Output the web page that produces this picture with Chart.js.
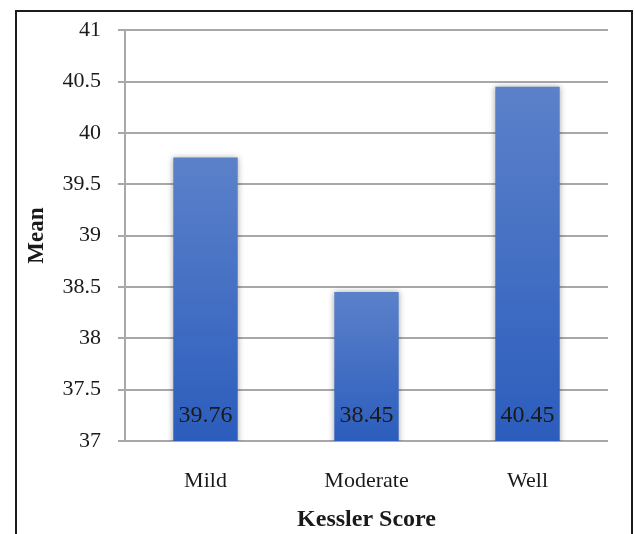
<!DOCTYPE html>
<html>
<head>
<meta charset="utf-8">
<script src="https://cdn.jsdelivr.net/npm/chart.js@4.4.1/dist/chart.umd.min.js"></script>
<style>
  html, body { margin: 0; padding: 0; background: #ffffff; }
  #wrap { position: relative; width: 635px; height: 534px; }
</style>
</head>
<body>
<div id="wrap"><canvas id="chart" width="635" height="534"></canvas></div>
<script>
// Mean age by Kessler distress category
const categories = ['Mild', 'Moderate', 'Well'];
const meanValues = [39.76, 38.45, 40.45];
const yTicks = [37, 37.5, 38, 38.5, 39, 39.5, 40, 40.5, 41];

const SERIF = "'Liberation Serif', 'Times New Roman', serif";

// White page with a dark frame around the figure
const framePlugin = {
  id: 'frame',
  beforeDraw(chart) {
    const c = chart.ctx;
    c.save();
    c.fillStyle = '#ffffff';
    c.fillRect(0, 0, chart.width, chart.height);
    c.strokeStyle = '#1c1c1c';
    c.lineWidth = 2;
    c.beginPath();
    c.moveTo(16, chart.height + 5);
    c.lineTo(16, 11);
    c.lineTo(632, 11);
    c.lineTo(632, chart.height + 5);
    c.stroke();
    c.restore();
  }
};

// Soft shadow behind the bars
const shadowPlugin = {
  id: 'barShadow',
  beforeDatasetsDraw(chart) {
    const c = chart.ctx;
    c.save();
    c.shadowColor = 'rgba(0,0,0,0.35)';
    c.shadowBlur = 6;
    c.shadowOffsetX = 0;
    c.shadowOffsetY = 0;
  },
  afterDatasetsDraw(chart) {
    chart.ctx.restore();
  }
};

// Value labels placed at the base of each bar
const baseLabelPlugin = {
  id: 'baseLabels',
  afterDatasetsDraw(chart) {
    const c = chart.ctx;
    const meta = chart.getDatasetMeta(0);
    const yScale = chart.scales.y;
    c.save();
    c.fillStyle = '#1a1a1a';
    c.font = "24px " + SERIF;
    c.textAlign = 'center';
    c.textBaseline = 'middle';
    meta.data.forEach((bar, i) => {
      const base = yScale.getPixelForValue(yScale.min);
      c.fillText(meanValues[i].toFixed(2), bar.x, base - 25);
    });
    c.restore();
  }
};

function barGradient(context) {
  const chart = context.chart;
  const area = chart.chartArea;
  if (!area) return '#3f6cc4';
  const yScale = chart.scales.y;
  const v = context.raw;
  const top = yScale.getPixelForValue(v);
  const bottom = yScale.getPixelForValue(yScale.min);
  const g = chart.ctx.createLinearGradient(0, top, 0, bottom);
  g.addColorStop(0, '#5b81c9');
  g.addColorStop(1, '#2c5dbd');
  return g;
}

new Chart(document.getElementById('chart'), {
  type: 'bar',
  data: {
    labels: categories,
    datasets: [{
      label: 'Mean',
      data: meanValues,
      backgroundColor: barGradient,
      borderWidth: 0,
      barPercentage: 0.4,
      categoryPercentage: 1.0
    }]
  },
  options: {
    responsive: false,
    animation: false,
    layout: { padding: { left: 20, right: 27, top: 29, bottom: 0 } },
    plugins: {
      legend: { display: false },
      tooltip: { enabled: false }
    },
    scales: {
      x: {
        grid: { display: false },
        border: { display: false },
        ticks: {
          color: '#1a1a1a',
          font: { family: SERIF, size: 22 },
          padding: 19
        },
        title: {
          display: true,
          text: 'Kessler Score',
          color: '#1a1a1a',
          font: { family: SERIF, size: 24, weight: 'bold' },
          padding: { top: 4, bottom: 0 }
        },
        afterFit(scale) { scale.height = 534 - 441; }
      },
      y: {
        min: 37,
        max: 41,
        afterBuildTicks(scale) {
          scale.ticks = yTicks.map(v => ({ value: v }));
        },
        grid: {
          color: '#a8a8a8',
          lineWidth: 2,
          tickLength: 7,
          drawTicks: true
        },
        border: { display: true, color: '#a8a8a8', width: 2 },
        ticks: {
          color: '#1a1a1a',
          font: { family: SERIF, size: 22 },
          padding: 17,
          callback: v => String(v)
        },
        title: {
          display: true,
          text: 'Mean',
          color: '#1a1a1a',
          font: { family: SERIF, size: 23, weight: 'bold' },
          padding: { top: 3, bottom: 0 }
        },
        afterFit(scale) { scale.width = 125 - 20; }
      }
    }
  },
  plugins: [framePlugin, shadowPlugin, baseLabelPlugin]
});
</script>
</body>
</html>
